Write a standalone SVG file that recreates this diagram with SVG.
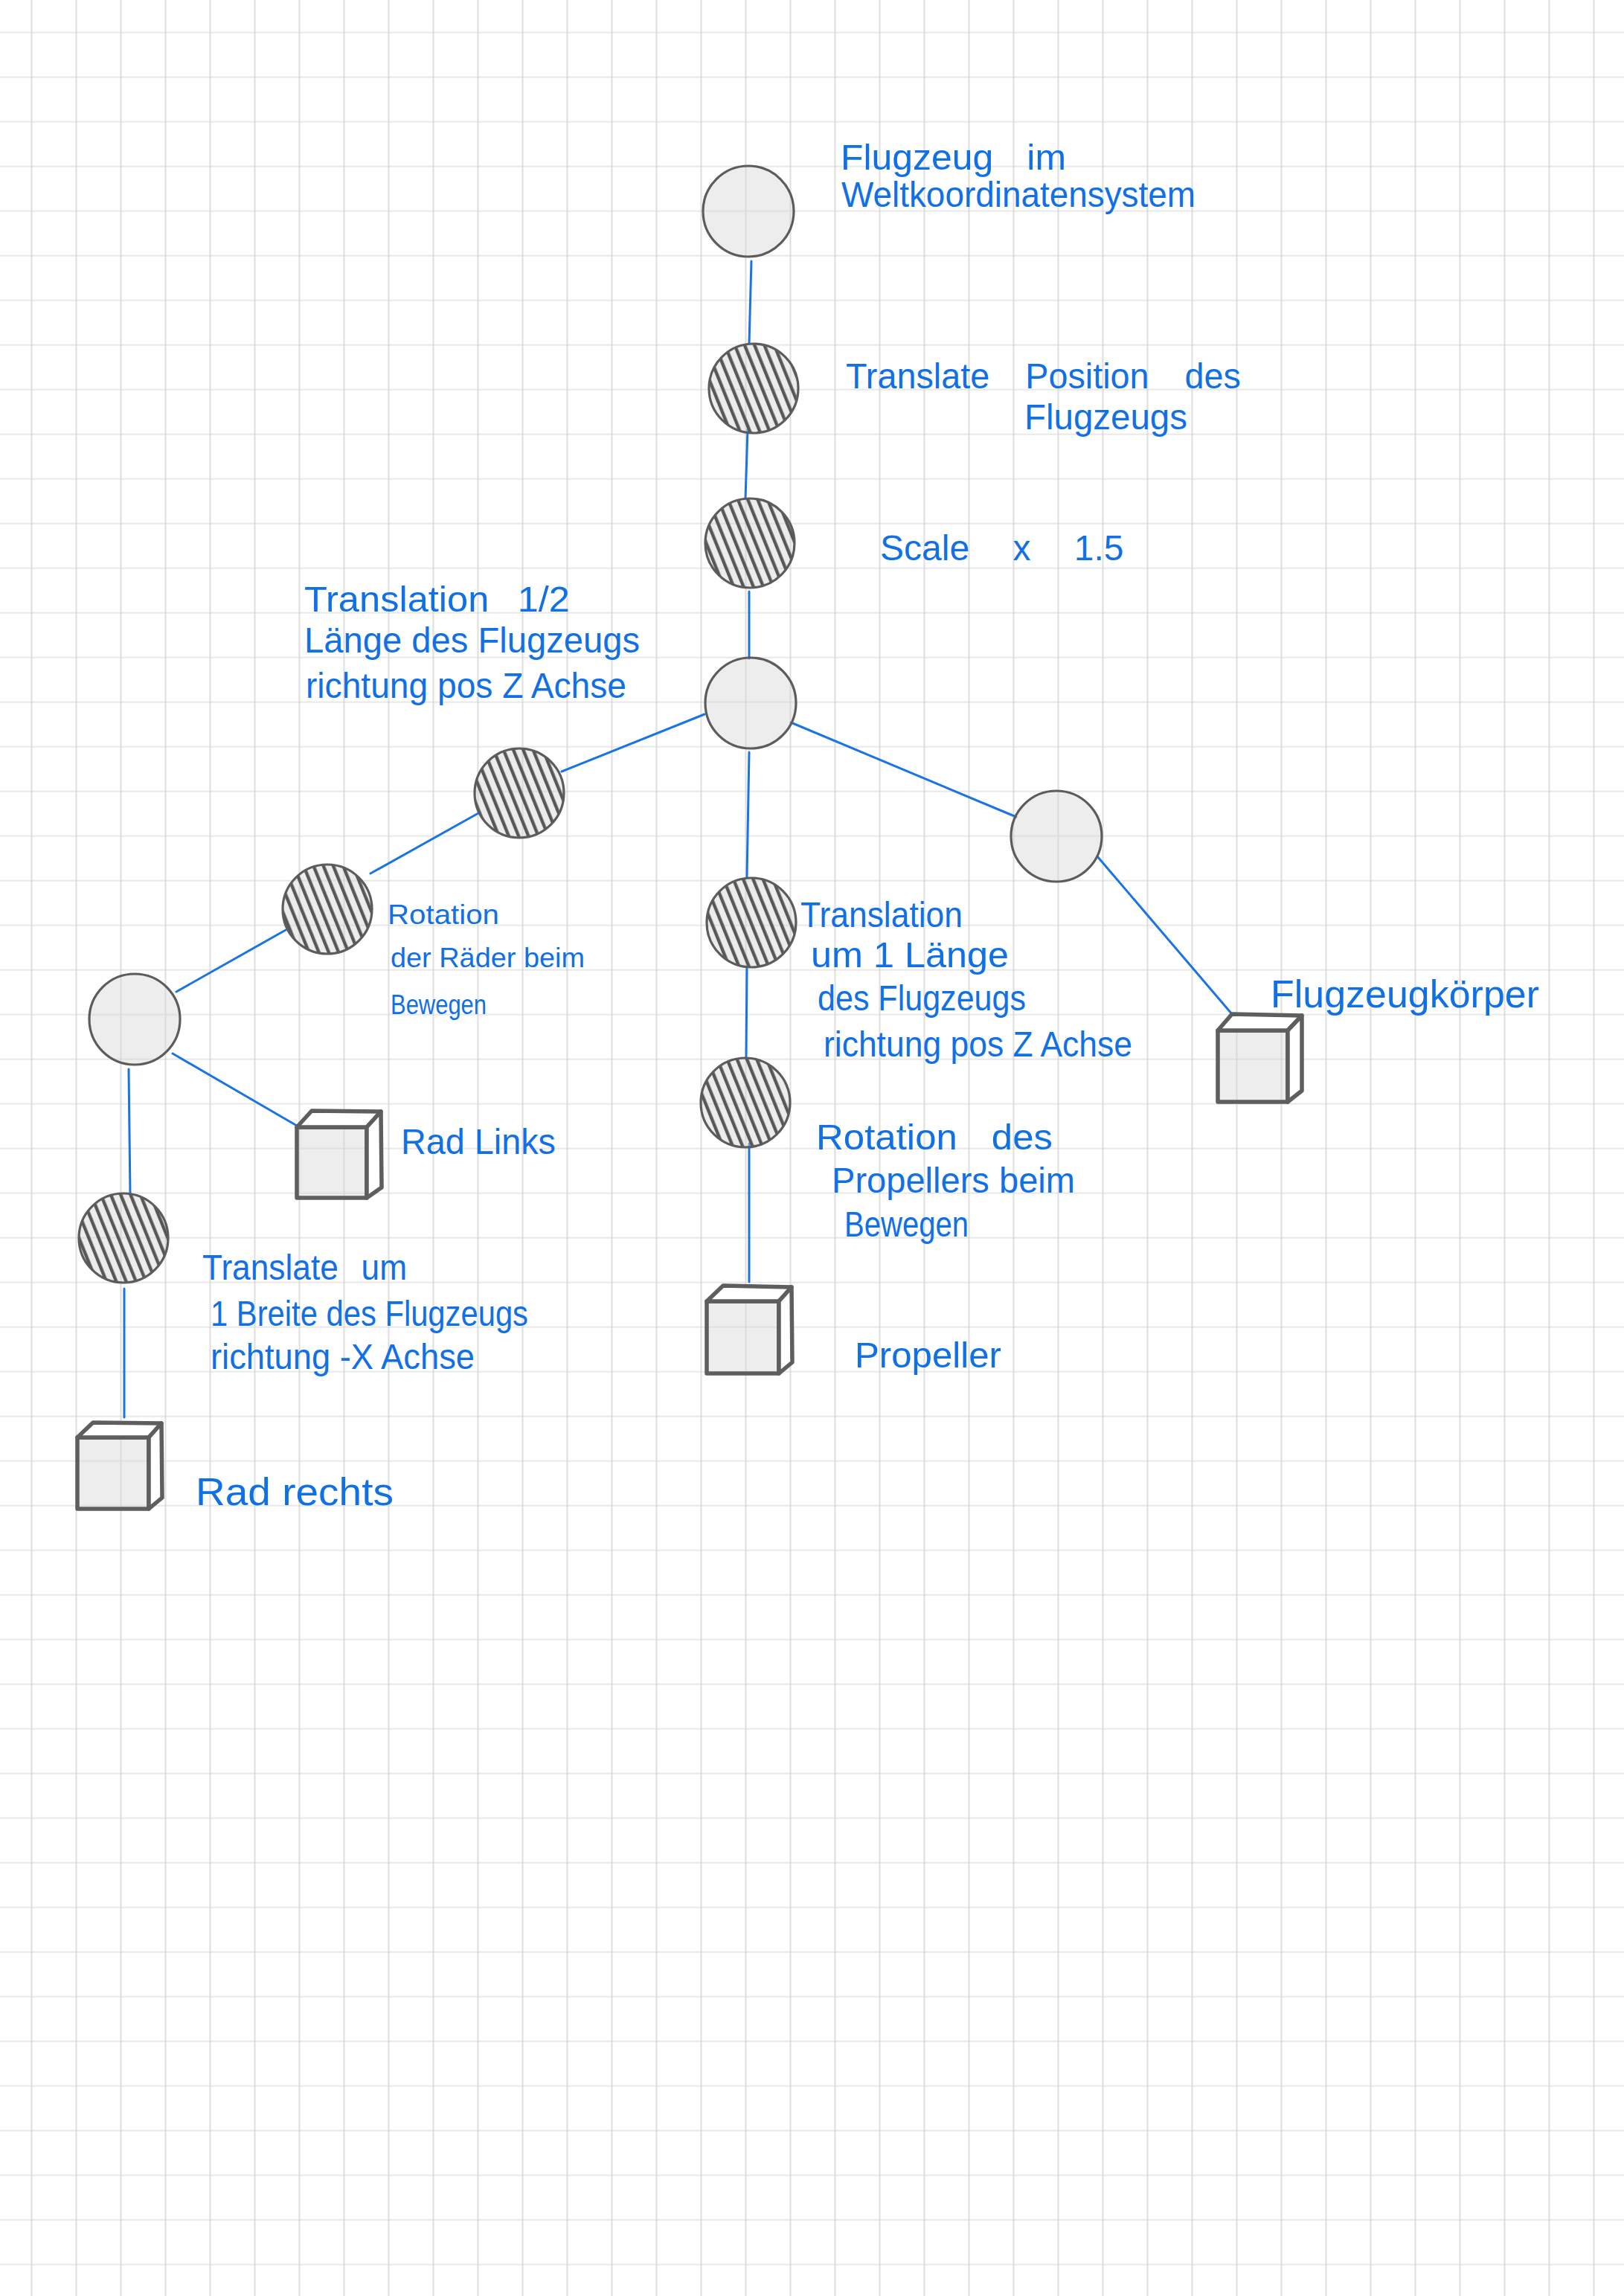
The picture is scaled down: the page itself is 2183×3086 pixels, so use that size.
<svg xmlns="http://www.w3.org/2000/svg" width="2183" height="3086" viewBox="0 0 2183 3086">
<style>
.edge{stroke:#1a74e2;stroke-width:3;fill:none;stroke-linecap:round}
.plain{fill:#d6d6d6;fill-opacity:0.45;stroke:#5c5c5c;stroke-width:3.2}
.hatch{fill:url(#hatch);stroke:#5c5c5c;stroke-width:3.2}
.front{fill:#d6d6d6;fill-opacity:0.45;stroke:#5e5e5e;stroke-width:5.5;stroke-linejoin:round}
.face{fill:#ffffff;stroke:#5e5e5e;stroke-width:5.5;stroke-linejoin:round}
.t{font-family:"Liberation Sans","DejaVu Sans",sans-serif;font-size:48px;fill:#1170e4}
.s{font-size:36px}
</style>
<defs>
<pattern id="grid" patternUnits="userSpaceOnUse" x="12.5" y="13.7" width="60" height="60">
<line x1="0" y1="30" x2="60" y2="30" stroke="#e0e0e0" stroke-width="1.6"/>
<line x1="30" y1="0" x2="30" y2="60" stroke="#d6d6d6" stroke-width="1.6"/>
</pattern>
<pattern id="hatch" patternUnits="userSpaceOnUse" width="12.3" height="12.3" patternTransform="rotate(-22)">
<rect width="12.3" height="12.3" fill="#d6d6d6" fill-opacity="0.45"/>
<line x1="4" y1="-2" x2="4" y2="14.3" stroke="#575757" stroke-width="4.4"/>
</pattern>
</defs>
<rect width="2183" height="3086" fill="#ffffff"/>
<rect width="2183" height="3086" fill="url(#grid)"/>

<g id="connectors">
<line class="edge" x1="1010" y1="351" x2="1007" y2="462"/>
<line class="edge" x1="1005" y1="577" x2="1002" y2="670"/>
<line class="edge" x1="1007" y1="795" x2="1007" y2="885"/>
<line class="edge" x1="947" y1="960" x2="755" y2="1037"/>
<line class="edge" x1="643" y1="1093" x2="498" y2="1174"/>
<line class="edge" x1="384" y1="1250" x2="237" y2="1333"/>
<line class="edge" x1="232" y1="1416" x2="399" y2="1513"/>
<line class="edge" x1="173" y1="1437" x2="175" y2="1606"/>
<line class="edge" x1="167" y1="1732" x2="167" y2="1905"/>
<line class="edge" x1="1063" y1="971" x2="1366" y2="1098"/>
<line class="edge" x1="1475" y1="1151" x2="1656" y2="1363"/>
<line class="edge" x1="1007" y1="1011" x2="1004" y2="1180"/>
<line class="edge" x1="1004" y1="1302" x2="1003" y2="1422"/>
<line class="edge" x1="1007" y1="1537" x2="1007" y2="1723"/>
</g>

<g id="world">
<circle class="plain" cx="1006" cy="284" r="61"/>
<text class="t" x="1130" y="228" word-spacing="30" textLength="303" lengthAdjust="spacingAndGlyphs">Flugzeug im</text>
<text class="t" x="1131" y="278" textLength="476" lengthAdjust="spacingAndGlyphs">Weltkoordinatensystem</text>
</g>

<g id="translate-position">
<circle class="hatch" cx="1013" cy="522" r="60"/>
<text class="t" x="1137" y="522" word-spacing="36" textLength="531" lengthAdjust="spacingAndGlyphs">Translate Position des</text>
<text class="t" x="1377" y="577" textLength="219" lengthAdjust="spacingAndGlyphs">Flugzeugs</text>
</g>

<g id="scale">
<circle class="hatch" cx="1008" cy="730" r="60"/>
<text class="t" x="1183" y="753" word-spacing="45">Scale x 1.5</text>
</g>

<g id="hub">
<circle class="plain" cx="1009" cy="945" r="61"/>
</g>

<g id="translation-half">
<circle class="hatch" cx="698" cy="1066" r="60"/>
<text class="t" x="409" y="822" word-spacing="23" textLength="357" lengthAdjust="spacingAndGlyphs">Translation 1/2</text>
<text class="t" x="409" y="877" textLength="451" lengthAdjust="spacingAndGlyphs">Länge des Flugzeugs</text>
<text class="t" x="411" y="938" textLength="431" lengthAdjust="spacingAndGlyphs">richtung pos Z Achse</text>
</g>

<g id="rotation-raeder">
<circle class="hatch" cx="440" cy="1222" r="60"/>
<text class="t s" x="521" y="1242" textLength="150" lengthAdjust="spacingAndGlyphs">Rotation</text>
<text class="t s" x="525" y="1300" textLength="261" lengthAdjust="spacingAndGlyphs">der Räder beim</text>
<text class="t s" x="525" y="1363" textLength="129" lengthAdjust="spacingAndGlyphs">Bewegen</text>
</g>

<g id="wheels">
<circle class="plain" cx="181" cy="1370" r="61"/>
</g>

<g id="rad-links">
<rect class="front" x="399" y="1515" width="94" height="95"/>
<path class="face" d="M399 1515 L419 1493 L512 1494 L493 1515 Z"/>
<path class="face" d="M493 1515 L512 1494 L513 1596 L493 1610 Z"/>
<text class="t" x="539" y="1551" textLength="208" lengthAdjust="spacingAndGlyphs">Rad Links</text>
</g>

<g id="translate-breite">
<circle class="hatch" cx="166" cy="1664" r="60"/>
<text class="t" x="272" y="1720" word-spacing="20" textLength="275" lengthAdjust="spacingAndGlyphs">Translate um</text>
<text class="t" x="283" y="1782" textLength="427" lengthAdjust="spacingAndGlyphs">1 Breite des Flugzeugs</text>
<text class="t" x="283" y="1840" textLength="355" lengthAdjust="spacingAndGlyphs">richtung -X Achse</text>
</g>

<g id="rad-rechts">
<rect class="front" x="104" y="1932" width="96" height="96"/>
<path class="face" d="M104 1932 L125 1912 L217 1913 L200 1932 Z"/>
<path class="face" d="M200 1932 L217 1913 L218 2013 L200 2028 Z"/>
<text class="t" x="263" y="2023" style="font-size:52px" textLength="266" lengthAdjust="spacingAndGlyphs">Rad rechts</text>
</g>

<g id="body-node">
<circle class="plain" cx="1420" cy="1124" r="61"/>
</g>

<g id="flugzeugkoerper">
<rect class="front" x="1637" y="1385" width="94" height="96"/>
<path class="face" d="M1637 1385 L1656 1363 L1750 1365 L1731 1385 Z"/>
<path class="face" d="M1731 1385 L1750 1365 L1750 1466 L1731 1481 Z"/>
<text class="t" x="1708" y="1354" style="font-size:52px" textLength="361" lengthAdjust="spacingAndGlyphs">Flugzeugkörper</text>
</g>

<g id="translation-laenge">
<circle class="hatch" cx="1010" cy="1240" r="60"/>
<text class="t" x="1076" y="1246" textLength="218" lengthAdjust="spacingAndGlyphs">Translation</text>
<text class="t" x="1090" y="1300" textLength="266" lengthAdjust="spacingAndGlyphs">um 1 Länge</text>
<text class="t" x="1099" y="1358" textLength="280" lengthAdjust="spacingAndGlyphs">des Flugzeugs</text>
<text class="t" x="1107" y="1420" textLength="415" lengthAdjust="spacingAndGlyphs">richtung pos Z Achse</text>
</g>

<g id="rotation-propeller">
<circle class="hatch" cx="1002" cy="1482" r="60"/>
<text class="t" x="1097" y="1545" word-spacing="30" textLength="318" lengthAdjust="spacingAndGlyphs">Rotation des</text>
<text class="t" x="1118" y="1603" textLength="327" lengthAdjust="spacingAndGlyphs">Propellers beim</text>
<text class="t" x="1135" y="1662" textLength="167" lengthAdjust="spacingAndGlyphs">Bewegen</text>
</g>

<g id="propeller">
<rect class="front" x="950" y="1749" width="97" height="97"/>
<path class="face" d="M950 1749 L972 1728 L1064 1730 L1047 1749 Z"/>
<path class="face" d="M1047 1749 L1064 1730 L1065 1831 L1047 1846 Z"/>
<text class="t" x="1149" y="1838" textLength="197" lengthAdjust="spacingAndGlyphs">Propeller</text>
</g>
</svg>
